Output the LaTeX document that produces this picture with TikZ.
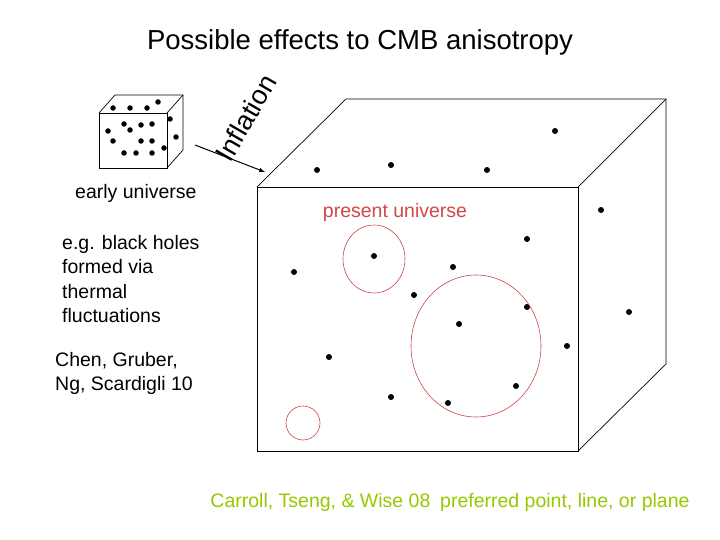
\documentclass[tikz,border=0pt]{standalone}
\usepackage{fontspec}
\setmainfont{Liberation Sans}
\begin{document}
\begin{tikzpicture}[x=1pt,y=-1pt,
  dot/.style={circle,fill=black,inner sep=0pt,minimum size=6pt},
  ring/.style={draw={rgb,255:red,200;green,70;blue,70},line width=0.6pt},
  lbl/.style={font=\fontsize{19.5}{24.5}\selectfont,align=left,anchor=north west,inner sep=0pt},
  edge/.style={line width=0.7pt}]
\useasboundingbox (0,0) rectangle (720,540);
\node (title) at (360,42) {\fontsize{27.5}{32}\selectfont Possible effects to CMB anisotropy};
% small cube
\draw[edge] (99,113) rectangle (167,168);
\draw[edge] (99,113) -- (115,95) -- (183,95) -- (183,150) -- (167,168);
\draw[edge] (167,113) -- (183,95);
\foreach \p in {(113,108),(130,108),(147,108),(158,102),(170,119),(108,131),(124,124),(130,130),(141,125),(152,124),(152,141),(113,141),(141,141),(176,137),(164,148),(124,153),(136,153),(152,153)}
  \node[dot,minimum size=5.5pt] at \p {};
\node[lbl] (eu) at (75,184) {early universe};
\node[lbl] (bh) at (62,235) {e.g. black holes\\formed via\\thermal\\fluctuations};
\node[lbl] (chen) at (55,352) {Chen, Gruber,\\Ng, Scardigli 10};
% arrow
\coordinate (as) at (195,145);
\coordinate (ae) at (265,172);
\draw[-latex,line width=1pt] (as) -- (ae);
\node[rotate=60,font=\fontsize{27}{30}\selectfont] (infl) at (246,118) {Inflation};
% big cube
\draw[edge] (257,187) rectangle (578,451);
\draw[edge] (257,187) -- (346,99) -- (666,99) -- (666,364) -- (578,451);
\draw[edge] (578,187) -- (666,99);
\foreach \p in {(317,170),(391,165),(487,170),(555,131),(601,210),(527,239),(453,267),(374,256),(294,272),(414,295),(459,324),(527,307),(567,346),(629,312),(329,357),(391,397),(448,403),(516,386)}
  \node[dot] at \p {};
\draw[ring] (374,259) ellipse (31 and 34);
\draw[ring] (476,346) ellipse (65 and 71);
\draw[ring] (303,423) circle (17);
\node[font=\fontsize{19.5}{22}\selectfont,text={rgb,255:red,210;green,70;blue,70}] (pu) at (395,212) {present universe};
\node[font=\fontsize{19.5}{22}\selectfont,text={rgb,255:red,150;green,200;blue,0}] (ct) at (450,502) {Carroll, Tseng, \& Wise 08\enspace preferred point, line, or plane};
\end{tikzpicture}
\end{document}
